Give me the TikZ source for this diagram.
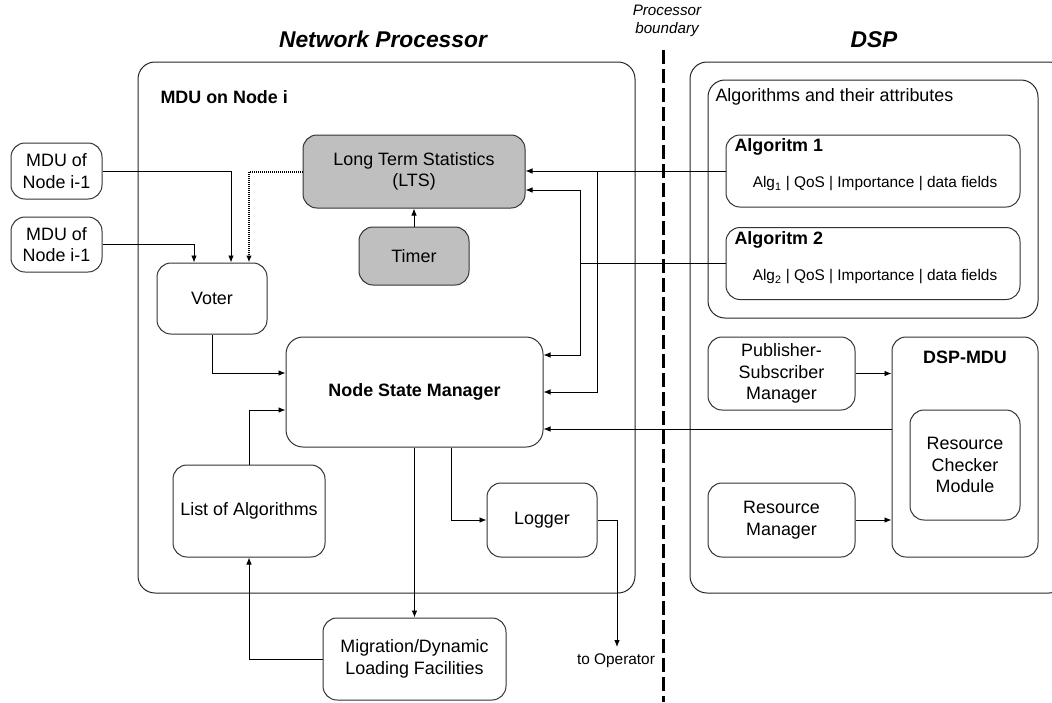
\documentclass[tikz,border=0pt]{standalone}
\usepackage{fontspec}
\setmainfont{Liberation Sans}
\usetikzlibrary{arrows.meta}
\newcommand\boxfont{\fontsize{17.9}{21.6}\selectfont}
\newcommand\attrfont{\fontsize{15.4}{18}\selectfont}
\newcommand\titlefont{\fontsize{22.8}{27}\selectfont\bfseries\itshape}

\begin{document}
\begin{tikzpicture}[x=1pt,y=-1pt, % 1 单位 = 1 像素
        blk/.style={draw=black!80, line width=1pt, rounded corners=14pt, align=center, inner sep=0pt, font=\boxfont},
        grayblk/.style={blk, fill=black!25},
        frame/.style={draw=black!85, line width=1pt, rounded corners=17pt},
        arr/.style={-{Latex[length=7pt,width=5.5pt]}, line width=0.8pt},
        dotarr/.style={arr, line width=2pt, dash pattern=on 1pt off 1pt}]
    \useasboundingbox (0,0) rectangle (1052,702);
    \clip (0,0) rectangle (1052,702);

    % 标题与处理器边界
    \node[font=\titlefont] (nptitle) at (383,39.5) {Network Processor};
    \node[font=\titlefont] (dsptitle) at (874,39.5) {DSP};
    \node[font=\fontsize{15.2}{17.5}\selectfont\itshape, align=center] (bound) at (667,21) {Processor\\boundary};
    \draw[line width=3pt, dash pattern=on 14pt off 5pt] (663,50) -- (663,702);

    % 外框
    \draw[frame] (138,62) rectangle (635,593);
    \node[font=\boxfont\bfseries, anchor=west] (mdutitle) at (157,97) {MDU on Node i};
    \draw[frame] (690,62) rectangle (1066,593);
    \draw[frame] (708,80) rectangle (1038,318);
    \node[font=\boxfont, anchor=west] (attrtitle) at (712,97) {Algorithms and their attributes};

    % 网络处理器一侧
    \node[blk, minimum width=91pt, minimum height=56pt] (mduA) at (56.5,171) {MDU of\\Node i-1};
    \node[blk, minimum width=91pt, minimum height=55pt] (mduB) at (56.5,244.5) {MDU of\\Node i-1};
    \node[blk, minimum width=110pt, minimum height=71pt] (voter) at (212,298.5) {Voter};
    \node[grayblk, minimum width=222pt, minimum height=73pt] (lts) at (414,171.5) {Long Term Statistics\\(LTS)};
    \node[grayblk, minimum width=110pt, minimum height=58pt] (timer) at (414,256) {Timer};
    \node[blk, font=\boxfont\bfseries, minimum width=257pt, minimum height=110pt, rounded corners=17pt] (nsm) at (414.5,392) {Node State Manager};
    \node[blk, minimum width=152pt, minimum height=92pt] (list) at (249,511) {List of Algorithms};
    \node[blk, minimum width=110pt, minimum height=74pt] (logger) at (542,520) {Logger};
    \node[blk, minimum width=183pt, minimum height=82pt] (mig) at (414.5,659) {Migration/Dynamic\\Loading Facilities};

    % DSP 一侧
    \foreach \i/\py in {1/171, 2/263.5} {
        \node[blk, minimum width=294pt, minimum height=72pt] (alg\i) at (873,\py) {};
        \node[font=\boxfont\bfseries, anchor=west] (alg\i-t) at (731,\py-24) {Algoritm \i};
        \node[font=\attrfont] (alg\i-a) at (875,\py+13) {Alg\textsubscript{\i} | QoS | Importance | data fields};
    }
    \node[blk, minimum width=147pt, minimum height=73pt] (psm) at (781.5,373.5) {Publisher-\\Subscriber\\Manager};
    \node[blk, minimum width=147pt, minimum height=74pt] (rman) at (781.5,520) {Resource\\Manager};
    \node[blk, minimum width=146pt, minimum height=220pt] (dspmdu) at (965,447) {};
    \node[font=\boxfont\bfseries] (dspmdut) at (965,357) {DSP-MDU};
    \node[blk, minimum width=110pt, minimum height=110pt] (rcm) at (965,465) {Resource\\Checker\\Module};

    % 连线
    \coordinate (j1) at (597,171);
    \coordinate (j2) at (580,263.5);
    \coordinate (toop) at (617,647);
    \draw[arr] (alg1.west) -- (alg1.west -| lts.east);
    \draw[arr] (j1) |- (nsm.east);
    \draw[line width=0.8pt] (alg2.west) -- (j2);
    \draw[arr] (j2) |- ([yshift=-18.5pt]lts.east);
    \draw[arr] (j2) |- ([yshift=37pt]nsm.east);
    \draw[arr] (dspmdu.west |- 0,429) -- ([yshift=-37pt]nsm.east);
    \draw[arr] (psm.east) -- (psm.east -| dspmdu.west);
    \draw[arr] (rman.east) -- (rman.east -| dspmdu.west);
    \draw[arr] (timer) -- (lts);
    \draw[arr] (mduA.east) -| ([xshift=19pt]voter.north);
    \draw[arr] (mduB.east) -| ([xshift=-18pt]voter.north);
    \draw[dotarr] (lts.west) -| ([xshift=37pt]voter.north);
    \draw[arr] (voter.south) |- ([yshift=19pt]nsm.west);
    \draw[arr] (list.north) |- ([yshift=-18pt]nsm.west);
    \draw[arr] (nsm.south) -- (mig.north);
    \draw[arr] ([xshift=37pt]nsm.south) |- (logger.west);
    \draw[arr] (logger.east) -| (toop);
    \node[font=\attrfont] (optext) at (616,661) {to Operator};
    \draw[arr] (mig.west) -| (list.south);
\end{tikzpicture}
\end{document}
